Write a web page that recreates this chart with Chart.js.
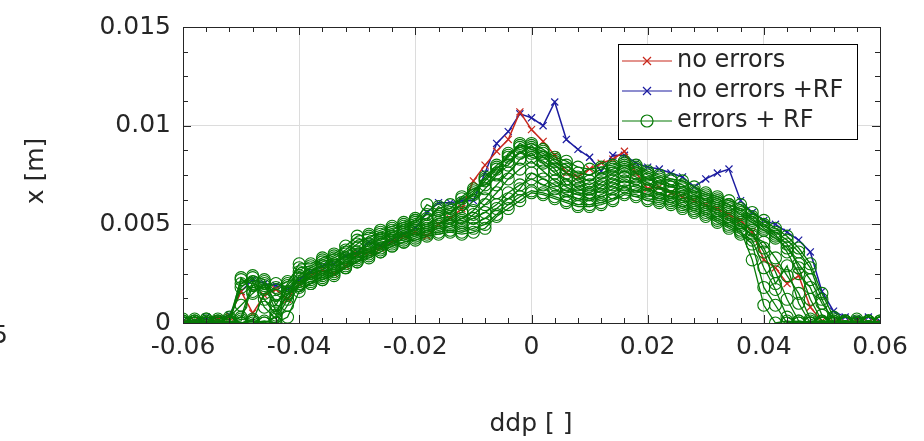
<!DOCTYPE html>
<html>
<head>
<meta charset="utf-8">
<script src="https://cdn.jsdelivr.net/npm/chart.js@4.4.1/dist/chart.umd.min.js"></script>
<style>
    body { margin: 0; background: #fff; }
</style>
</head>
<body>
<canvas id="chart" width="924" height="441"></canvas>
<script>
// ddp values (x axis)
const ddp = [
    -0.060, -0.058, -0.056, -0.054, -0.052, -0.050, -0.048, -0.046, -0.044, -0.042,
    -0.040, -0.038, -0.036, -0.034, -0.032, -0.030, -0.028, -0.026, -0.024, -0.022,
    -0.020, -0.018, -0.016, -0.014, -0.012, -0.010, -0.008, -0.006, -0.004, -0.002,
    0.000, 0.002, 0.004, 0.006, 0.008, 0.010, 0.012, 0.014, 0.016, 0.018,
    0.020, 0.022, 0.024, 0.026, 0.028, 0.030, 0.032, 0.034, 0.036, 0.038,
    0.040, 0.042, 0.044, 0.046, 0.048, 0.050, 0.052, 0.054, 0.056, 0.058, 0.060
];

// x [mm] for each run
const noErrors = [
    0.0, 0.1, 0.0, 0.2, 0.3, 1.6, 0.5, 1.4, 1.7, 1.2,
    2.0, 2.4, 2.7, 2.5, 2.9, 3.5, 3.6, 3.8, 4.1, 4.4,
    4.6, 4.4, 5.0, 5.3, 5.8, 7.2, 8.0, 8.7, 9.3, 10.7,
    9.8, 9.2, 8.5, 7.6, 7.4, 7.8, 8.1, 8.3, 8.7, 7.6,
    6.8, 6.9, 6.6, 6.4, 6.2, 6.0, 5.8, 5.5, 5.2, 4.6,
    3.2, 2.8, 2.0, 2.4, 0.8, 0.1, 0.0, 0.0, 0.1, 0.0, 0.0
];
const noErrorsRF = [
    0.1, 0.1, 0.3, 0.2, 0.4, 1.6, 2.2, 2.0, 1.9, 1.7,
    2.2, 2.6, 2.9, 3.0, 3.4, 3.6, 4.1, 3.9, 4.2, 4.5,
    4.8, 5.6, 6.1, 6.1, 6.2, 6.2, 7.6, 9.1, 9.7, 10.6,
    10.4, 10.0, 11.2, 9.3, 8.8, 8.4, 7.7, 8.5, 8.5, 8.1,
    7.9, 7.8, 7.6, 7.4, 6.9, 7.3, 7.6, 7.8, 6.2, 5.6,
    5.2, 5.0, 4.6, 4.2, 3.6, 1.6, 0.6, 0.3, 0.2, 0.3, 0.1
];
const errorsRF1 = [
    0.0, 0.1, 0.0, 0.1, 0.2, 2.2, 2.0, 1.7, 2.0, 1.8,
    2.3, 2.6, 2.9, 3.2, 3.3, 3.8, 3.9, 4.3, 4.4, 4.7,
    4.9, 5.0, 5.3, 5.4, 5.6, 6.2, 6.8, 7.5, 8.2, 8.6,
    9.0, 8.4, 8.0, 7.6, 7.2, 7.0, 7.3, 7.6, 7.9, 7.6,
    7.3, 7.1, 6.9, 6.8, 6.5, 6.2, 6.0, 5.8, 5.6, 5.2,
    4.9, 4.6, 4.2, 3.6, 2.8, 1.2, 0.0, 0.1, 0.0, 0.1, 0.0
];
const errorsRF2 = [
    0.1, 0.0, 0.2, 0.0, 0.1, 1.8, 2.3, 1.2, 0.4, 1.9,
    2.6, 2.2, 2.5, 2.8, 3.1, 3.3, 3.6, 3.8, 4.0, 4.3,
    4.5, 4.6, 4.8, 4.9, 5.1, 5.3, 5.6, 6.0, 6.6, 7.0,
    7.3, 7.0, 6.8, 6.5, 6.3, 6.2, 6.4, 6.6, 6.9, 6.7,
    6.5, 6.3, 6.2, 6.0, 5.8, 5.6, 5.3, 5.0, 4.7, 3.2,
    0.9, 0.0, 0.1, 0.0, 0.0, 0.1, 0.0, 0.0, 0.1, 0.0, 0.0
];
const errorsRF3 = [
    0.0, 0.0, 0.1, 0.0, 0.0, 0.1, 1.9, 2.1, 1.4, 1.6,
    2.1, 2.5, 2.7, 3.0, 3.5, 3.5, 3.8, 4.0, 4.3, 4.5,
    4.7, 4.9, 5.1, 5.0, 5.3, 5.7, 6.3, 7.0, 7.6, 8.3,
    8.6, 8.1, 7.6, 7.3, 6.8, 6.6, 6.9, 7.2, 7.4, 7.3,
    7.0, 6.8, 6.6, 6.4, 6.2, 6.0, 5.7, 5.4, 5.1, 4.7,
    3.8, 2.6, 1.2, 0.1, 0.0, 0.0, 0.1, 0.0, 0.0, 0.1, 0.0
];
const errorsRF4 = [
    0.1, 0.0, 0.0, 0.2, 0.0, 0.0, 0.1, 0.0, 0.0, 0.9,
    1.9, 2.3, 2.6, 2.7, 3.2, 3.6, 3.7, 4.1, 4.2, 4.6,
    4.8, 4.8, 5.0, 5.3, 5.0, 5.5, 6.0, 6.6, 7.3, 7.8,
    8.2, 7.7, 7.2, 6.9, 6.6, 6.5, 6.7, 7.0, 7.2, 7.0,
    6.8, 6.6, 6.4, 6.2, 6.0, 5.8, 5.6, 5.3, 5.0, 4.4,
    4.1, 3.3, 2.4, 1.5, 0.2, 0.0, 0.0, 0.1, 0.0, 0.0, 0.1
];
const errorsRF5 = [
    0.0, 0.2, 0.0, 0.0, 0.1, 0.0, 0.0, 0.1, 0.0, 0.3,
    1.6, 2.0, 2.4, 2.9, 3.0, 3.4, 4.0, 4.2, 4.6, 4.8,
    5.1, 5.5, 5.4, 5.6, 6.0, 6.5, 7.2, 7.8, 8.5, 9.0,
    8.9, 8.7, 8.3, 8.0, 7.6, 7.5, 7.8, 7.9, 8.1, 7.9,
    7.6, 7.4, 7.2, 7.0, 6.7, 6.5, 6.3, 6.0, 5.8, 5.4,
    5.0, 4.5, 3.6, 2.5, 1.8, 0.4, 0.0, 0.0, 0.2, 0.0, 0.0
];
const errorsRF6 = [
    0.2, 0.0, 0.1, 0.0, 0.3, 0.9, 1.5, 2.0, 0.6, 1.4,
    1.9, 2.1, 2.3, 2.6, 2.9, 3.2, 3.4, 3.6, 3.9, 4.1,
    4.3, 4.5, 4.6, 4.7, 4.6, 4.8, 5.0, 5.5, 6.0, 6.4,
    6.7, 6.6, 6.4, 6.2, 6.0, 6.0, 6.1, 6.3, 6.6, 6.5,
    6.3, 6.2, 6.1, 5.9, 5.7, 5.5, 5.2, 4.9, 4.6, 4.2,
    2.8, 1.7, 0.3, 0.0, 0.1, 0.0, 0.0, 0.0, 0.0, 0.1, 0.0
];
const errorsRF7 = [
    0.0, 0.0, 0.0, 0.1, 0.0, 0.2, 0.1, 1.5, 1.8, 2.1,
    2.8, 2.9, 3.2, 3.4, 3.7, 4.2, 4.3, 4.6, 4.8, 4.9,
    5.2, 6.0, 5.7, 5.8, 6.3, 6.7, 7.3, 7.9, 8.0, 8.7,
    8.4, 8.2, 7.8, 7.0, 7.0, 6.8, 7.1, 7.4, 7.7, 7.4,
    7.1, 6.9, 6.7, 6.6, 6.4, 6.3, 6.1, 5.9, 5.5, 5.1,
    4.7, 4.3, 3.8, 3.0, 2.2, 1.0, 0.2, 0.0, 0.0, 0.0, 0.1
];
const errorsRF8 = [
    0.0, 0.1, 0.0, 0.0, 0.0, 2.3, 1.6, 1.9, 1.1, 1.5,
    2.0, 2.4, 2.2, 2.5, 2.8, 3.1, 3.5, 3.7, 4.1, 4.2,
    4.4, 4.7, 4.9, 5.1, 5.2, 5.0, 5.3, 5.8, 6.3, 6.8,
    7.6, 7.3, 7.0, 6.7, 6.5, 6.3, 6.5, 6.8, 7.0, 6.9,
    6.7, 6.5, 6.4, 6.2, 6.1, 5.9, 5.5, 5.2, 4.9, 4.5,
    3.6, 2.0, 2.9, 1.0, 0.0, 0.0, 0.1, 0.0, 0.0, 0.0, 0.0
];
const errorsRF9 = [
    0.1, 0.0, 0.0, 0.1, 0.0, 0.3, 2.1, 0.8, 0.2, 1.2,
    2.4, 2.8, 3.1, 3.3, 3.6, 4.0, 4.4, 4.5, 4.7, 5.0,
    5.2, 5.3, 5.8, 6.0, 6.1, 6.6, 7.4, 8.0, 8.4, 9.1,
    8.8, 8.6, 8.2, 7.8, 7.4, 7.2, 7.6, 7.8, 8.0, 7.8,
    7.5, 7.3, 7.0, 6.9, 6.6, 6.4, 6.2, 6.0, 5.7, 5.3,
    4.8, 4.4, 4.0, 2.8, 1.2, 0.1, 0.0, 0.1, 0.0, 0.0, 0.0
];
const errorsRF10 = [
    0.0, 0.0, 0.2, 0.0, 0.0, 0.0, 0.2, 0.0, 0.3, 1.5,
    1.8, 2.0, 2.2, 2.4, 2.8, 3.1, 3.3, 3.6, 3.9, 4.1,
    4.2, 4.4, 4.5, 4.6, 4.5, 4.6, 4.8, 5.4, 5.8, 6.2,
    6.6, 6.5, 6.3, 6.1, 5.9, 5.9, 6.0, 6.2, 6.5, 6.4,
    6.2, 6.1, 6.0, 5.8, 5.6, 5.4, 5.1, 4.8, 4.5, 4.0,
    1.8, 0.9, 0.0, 0.1, 0.0, 0.0, 0.0, 0.1, 0.0, 0.0, 0.0
];
const errorsRF11 = [
    0.0, 0.1, 0.0, 0.0, 0.1, 2.0, 2.4, 2.2, 0.9, 2.0,
    3.0, 3.0, 3.3, 3.5, 3.9, 4.4, 4.5, 4.7, 4.9, 5.1,
    5.3, 5.2, 5.9, 5.5, 6.4, 6.8, 7.0, 7.6, 8.6, 8.9,
    9.1, 8.8, 8.4, 8.2, 7.9, 7.8, 7.9, 8.0, 8.2, 8.0,
    7.7, 7.5, 7.3, 7.2, 6.9, 6.6, 6.4, 6.2, 6.0, 5.6,
    5.2, 4.8, 4.4, 3.8, 3.0, 1.5, 0.3, 0.0, 0.0, 0.1, 0.0
];
const errorRuns = [
    errorsRF1, errorsRF2, errorsRF3, errorsRF4, errorsRF5, errorsRF6,
    errorsRF7, errorsRF8, errorsRF9, errorsRF10, errorsRF11
];

const legendLabels = ['no errors', 'no errors +RF', 'errors + RF'];
const xTitle = 'ddp [ ]';
const yTitle = 'x [m]';

const RED = '#c8281c';
const BLUE = '#1c1ca0';
const GREEN = '#067a06';
const TEXT = '#262626';
const FONT = "'DejaVu Sans', sans-serif";

function toPoints(vals) {
    return ddp.map((x, i) => ({ x: x, y: vals[i] }));
}

const datasets = [];
errorRuns.forEach((run) => {
    datasets.push({
        label: legendLabels[2],
        data: toPoints(run),
        borderColor: GREEN,
        borderWidth: 1.3,
        pointStyle: 'circle',
        pointRadius: 6,
        pointBorderWidth: 1.1,
        pointBorderColor: GREEN,
        pointBackgroundColor: 'rgba(0,0,0,0)',
        order: 0
    });
});
datasets.push({
    label: legendLabels[0],
    data: toPoints(noErrors),
    borderColor: RED,
    borderWidth: 1.5,
    pointStyle: 'crossRot',
    pointRadius: 5,
    pointBorderWidth: 1.2,
    pointBorderColor: RED,
    order: 1
});
datasets.push({
    label: legendLabels[1],
    data: toPoints(noErrorsRF),
    borderColor: BLUE,
    borderWidth: 1.5,
    pointStyle: 'crossRot',
    pointRadius: 5,
    pointBorderWidth: 1.2,
    pointBorderColor: BLUE,
    order: 2
});

// box, inward ticks, axis titles and the legend, matlab style
const framePlugin = {
    id: 'frame',
    afterDatasetsDraw(chart) {
        const ctx = chart.ctx;
        const a = chart.chartArea;
        const xs = chart.scales.x;
        const ys = chart.scales.y;
        ctx.save();
        ctx.strokeStyle = TEXT;
        ctx.lineWidth = 1;
        ctx.strokeRect(a.left + 0.5, a.top + 0.5, a.right - a.left, a.bottom - a.top);

        ctx.beginPath();
        for (let v = 0; v <= 15.001; v += 1.25) {
            const py = Math.round(ys.getPixelForValue(v)) + 0.5;
            const len = (Math.abs(v % 5) < 0.01) ? 8 : 5;
            ctx.moveTo(a.left, py); ctx.lineTo(a.left + len, py);
            ctx.moveTo(a.right, py); ctx.lineTo(a.right - len, py);
        }
        for (let k = -15; k <= 15; k++) {
            const px = Math.round(xs.getPixelForValue(k * 0.004)) + 0.5;
            const len = (k % 5 === 0) ? 8 : 5;
            ctx.moveTo(px, a.bottom); ctx.lineTo(px, a.bottom - len);
            ctx.moveTo(px, a.top); ctx.lineTo(px, a.top + len);
        }
        ctx.stroke();

        // legend
        const lx = 618, ly = 44, lw = 239, lh = 95;
        ctx.fillStyle = '#fff';
        ctx.fillRect(lx, ly, lw, lh);
        ctx.strokeStyle = '#000';
        ctx.strokeRect(lx + 0.5, ly + 0.5, lw, lh);
        const rows = [
            { c: RED, s: 'cross', t: legendLabels[0] },
            { c: BLUE, s: 'cross', t: legendLabels[1] },
            { c: GREEN, s: 'circle', t: legendLabels[2] }
        ];
        ctx.font = '24px ' + FONT;
        ctx.textBaseline = 'middle';
        ctx.textAlign = 'left';
        rows.forEach((r, i) => {
            const yy = 61 + i * 30;
            ctx.strokeStyle = r.c;
            ctx.lineWidth = 1.2;
            ctx.beginPath();
            ctx.moveTo(622, yy); ctx.lineTo(672, yy);
            ctx.stroke();
            ctx.beginPath();
            if (r.s === 'cross') {
                ctx.moveTo(643, yy - 4); ctx.lineTo(651, yy + 4);
                ctx.moveTo(651, yy - 4); ctx.lineTo(643, yy + 4);
            } else {
                ctx.arc(647, yy, 6, 0, Math.PI * 2);
            }
            ctx.stroke();
            ctx.fillStyle = TEXT;
            ctx.fillText(r.t, 677, yy);
        });

        // axis titles
        ctx.fillStyle = TEXT;
        ctx.font = '25px ' + FONT;
        ctx.textAlign = 'center';
        ctx.fillText(xTitle, 531, 424);
        ctx.translate(36, 171);
        ctx.rotate(-Math.PI / 2);
        ctx.fillText(yTitle, 0, 0);
        ctx.restore();

        // clipped label of the neighbouring panel
        ctx.save();
        ctx.fillStyle = TEXT;
        ctx.font = '25px ' + FONT;
        ctx.textAlign = 'right';
        ctx.textBaseline = 'middle';
        ctx.fillText('5', 8, 336);
        ctx.restore();
    }
};

const config = {
    type: 'line',
    data: { datasets: datasets },
    options: {
        responsive: false,
        animation: false,
        devicePixelRatio: 1,
        layout: { padding: { left: 0, right: 44, top: 19, bottom: 0 } },
        plugins: {
            legend: { display: false },
            tooltip: { enabled: false }
        },
        scales: {
            x: {
                type: 'linear',
                min: -0.06,
                max: 0.06,
                ticks: {
                    stepSize: 0.02,
                    padding: 9,
                    maxRotation: 0,
                    color: TEXT,
                    font: { family: FONT, size: 25 },
                    callback: (v) => String(+v.toFixed(2))
                },
                grid: { color: '#dcdcdc', drawTicks: false },
                border: { display: false },
                afterFit: (s) => { s.height = 118; }
            },
            y: {
                min: 0,
                max: 15,
                ticks: {
                    stepSize: 5,
                    padding: 12,
                    color: TEXT,
                    font: { family: FONT, size: 25 },
                    callback: (v) => String(v / 1000)
                },
                grid: { color: '#dcdcdc', drawTicks: false },
                border: { display: false },
                afterFit: (s) => { s.width = 183; }
            }
        }
    },
    plugins: [framePlugin]
};

new Chart(document.getElementById('chart'), config);
</script>
</body>
</html>
